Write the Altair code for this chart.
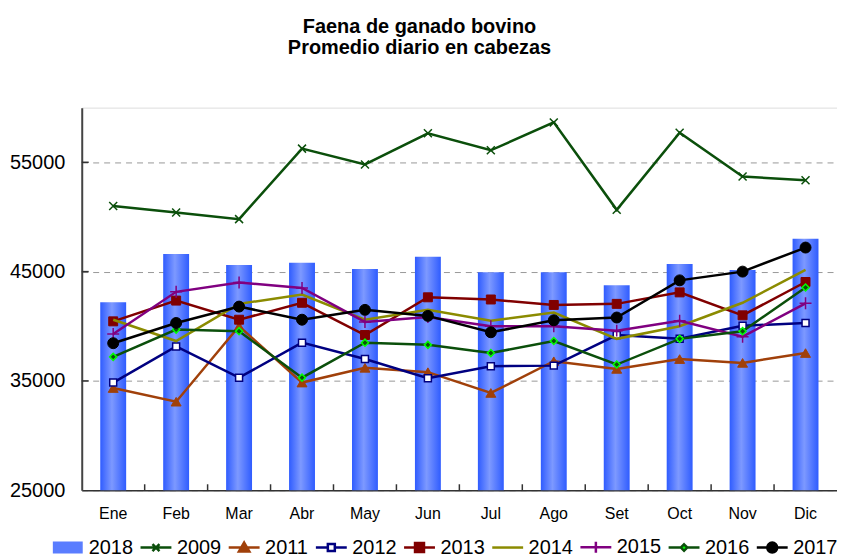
import altair as alt
import pandas as pd

meses = ["Ene", "Feb", "Mar", "Abr", "May", "Jun", "Jul", "Ago", "Set", "Oct", "Nov", "Dic"]

v2018 = [42200, 46600, 45600, 45800, 45250, 46350, 44950, 44950, 43750, 45700, 45150, 48000]
v2009 = [51000, 50400, 49800, 56250, 54800, 57650, 56100, 58650, 50650, 57700, 53700, 53350]
v2011 = [34350, 33100, 40000, 34850, 36200, 35800, 33900, 36800, 36100, 37000, 36650, 37550]
v2012 = [34850, 38150, 35300, 38500, 37000, 35250, 36350, 36400, 39200, 38850, 40050, 40300]
v2013 = [40450, 42350, 40600, 42150, 39200, 42650, 42450, 41950, 42050, 43100, 41000, 44050]
v2014 = [40600, 38650, 42050, 42900, 40600, 41500, 40500, 41250, 38850, 40000, 42150, 45150]
v2015 = [39300, 43150, 44000, 43500, 40400, 40850, 40000, 40000, 39600, 40500, 39050, 42100]
v2016 = [37200, 39700, 39550, 35300, 38500, 38300, 37550, 38650, 36500, 38850, 39550, 43550]
v2017 = [38450, 40300, 41800, 40600, 41500, 40950, 39450, 40550, 40800, 44200, 45000, 47200]

line_series = ["2009", "2011", "2012", "2013", "2014", "2015", "2016", "2017"]
line_values = [v2009, v2011, v2012, v2013, v2014, v2015, v2016, v2017]

y_ticks = [25000, 35000, 45000, 55000]
FONT = "Liberation Sans, Arial, sans-serif"

# style per series: line colour, marker shape, marker fill, marker stroke, size, stroke width
styles = {
    "2009": dict(color="#0b4f0b", shape="M-1,-1L1,1M-1,1L1,-1", fill="transparent", stroke="#0b4f0b", size=64, sw=1.5),
    "2011": dict(color="#a0400a", shape="triangle-up", fill="#a0400a", stroke="#a0400a", size=100, sw=1),
    "2012": dict(color="#000080", shape="square", fill="#ffffff", stroke="#000080", size=49, sw=1.5),
    "2013": dict(color="#800000", shape="square", fill="#800000", stroke="#800000", size=81, sw=1),
    "2014": dict(color="#8b8b00", shape=None, fill=None, stroke=None, size=0, sw=0),
    "2015": dict(color="#800080", shape="M-1,0H1M0,-1V1", fill="transparent", stroke="#800080", size=144, sw=1.5),
    "2016": dict(color="#0b4f0b", shape="diamond", fill="#0b4f0b", stroke="#00ff00", size=50, sw=1.5),
    "2017": dict(color="#000000", shape="circle", fill="#000000", stroke="#000000", size=121, sw=1),
}

rows = []
for s, vals in zip(line_series, line_values):
    for m, v in zip(meses, vals):
        rows.append({"mes": m, "serie": s, "valor": v})
df_lines = pd.DataFrame(rows)
df_bars = pd.DataFrame({"mes": meses, "valor": v2018})
df_ticks = pd.DataFrame({"t": y_ticks[1:]})
df_xticks = pd.DataFrame({"mes": meses[1:]})

legend_domain = ["2018"] + line_series
legend_stroke = ["#5a7dff"] + [styles[s]["color"] for s in line_series]
legend_fill = ["#5a7dff", "#0b4f0b", "#a0400a", "#ffffff", "#800000", "#8b8b00", "#800080", "#00ff00", "#000000"]
legend_shapes = [
    "M-2.75,-0.95H2.75V0.95H-2.75Z",
    "M-3.1,0H3.1M-0.7,-0.7L0.7,0.7M-0.7,0.7L0.7,-0.7",
    "M-3.1,0H3.1M0,-1L1.05,0.8H-1.05Z",
    "M-3.1,0H-0.7M0.7,0H3.1M-0.7,-0.7H0.7V0.7H-0.7Z",
    "M-3.1,0H3.1M-0.9,-0.9H0.9V0.9H-0.9Z",
    "M-3.1,0H3.1",
    "M-3.1,0H3.1M0,-1.1V1.1",
    "M-3.1,0H-0.65M0.65,0H3.1M0,-0.65L0.65,0L0,0.65L-0.65,0Z",
    "M-3.1,0H3.1M1,0A1,1 0 1,1 -1,0A1,1 0 1,1 1,0Z",
]
df_legend = pd.DataFrame({"serie": legend_domain, "v": [None] * len(legend_domain)})

x_enc = alt.X(
    "mes:N", sort=meses,
    scale=alt.Scale(paddingInner=0, paddingOuter=0),
    axis=alt.Axis(title=None, labelAngle=0, labelFontSize=16, labelFont=FONT, labelColor="#000",
                  labelPadding=15, ticks=False,
                  domainColor="#333", domainWidth=1.5),
)
y_scale = alt.Scale(domain=[25000, 60000], zero=False, nice=False)
y_axis = alt.Axis(title=None, values=y_ticks, format="d", labelFontSize=20, labelFont=FONT, labelColor="#000",
                  labelPadding=17, tickSize=0, domainColor="#444", domainWidth=2,
                  grid=True, gridColor="#999", gridDash=[6, 5], gridWidth=1)

bar_gradient = alt.Gradient(
    gradient="linear", x1=0, x2=1, y1=0, y2=0,
    stops=[alt.GradientStop(color="#2f5cff", offset=0),
           alt.GradientStop(color="#7d99ff", offset=0.45),
           alt.GradientStop(color="#2f5cff", offset=1)],
)

bars = alt.Chart(df_bars).mark_bar(size=26, color=bar_gradient).encode(
    x=x_enc,
    y=alt.Y("valor:Q", scale=y_scale, axis=y_axis),
    y2=alt.datum(25000),
)

# inward ticks on the y axis
ticks = alt.Chart(df_ticks).mark_rule(color="#333", strokeWidth=1.5).encode(
    y=alt.Y("t:Q", scale=y_scale),
    x=alt.value(0),
    x2=alt.value(7),
)

# inward ticks on the x axis, at the category boundaries
xticks = alt.Chart(df_xticks).mark_rule(color="#333", strokeWidth=1.5).encode(
    x=alt.X("mes:N", sort=meses, bandPosition=0),
    y=alt.value(384),
    y2=alt.value(378),
)

layers = [bars, ticks, xticks]
for s in line_series:
    st = styles[s]
    base = alt.Chart(df_lines).transform_filter(alt.datum.serie == s)
    layers.append(base.mark_line(color=st["color"], strokeWidth=2.5).encode(
        x=alt.X("mes:N", sort=meses), y=alt.Y("valor:Q", scale=y_scale)))
    if st["shape"] is not None:
        layers.append(base.mark_point(shape=st["shape"], filled=True, fill=st["fill"], stroke=st["stroke"],
                                      strokeWidth=st["sw"], size=st["size"], opacity=1).encode(
            x=alt.X("mes:N", sort=meses), y=alt.Y("valor:Q", scale=y_scale)))

legend_layer = alt.Chart(df_legend).mark_point(filled=True, size=100, strokeWidth=2.5, opacity=1).encode(
    y=alt.Y("v:Q", scale=y_scale),
    shape=alt.Shape("serie:N", scale=alt.Scale(domain=legend_domain, range=legend_shapes),
                    legend=alt.Legend(title=None, orient="none", legendX=-34, legendY=431,
                                      direction="horizontal", columns=9,
                                      labelFontSize=20, labelFont=FONT, labelColor="#000",
                                      symbolSize=100, symbolStrokeWidth=2.5,
                                      labelOffset=11, columnPadding=1.5, symbolOffset=10)),
    stroke=alt.Stroke("serie:N", scale=alt.Scale(domain=legend_domain, range=legend_stroke),
                      legend=alt.Legend(title=None)),
    fill=alt.Fill("serie:N", scale=alt.Scale(domain=legend_domain, range=legend_fill),
                  legend=alt.Legend(title=None)),
).transform_filter("isValid(datum.v)")
layers.append(legend_layer)

chart = alt.layer(*layers).properties(
    width=758, height=384,
    title=alt.TitleParams(["Faena de ganado bovino", "Promedio diario en cabezas"],
                          font=FONT, fontSize=20, fontWeight="bold", color="#000",
                          anchor="middle", frame="group", dx=-40, offset=50, lineHeight=21),
    autosize=alt.AutoSizeParams(type="none"),
    padding={"left": 74, "top": 99, "right": 0, "bottom": 66},
).configure_view(stroke="#888", strokeWidth=1).configure(background="white")

chart.save("out.html", embed_options={"renderer": "svg", "actions": False})
